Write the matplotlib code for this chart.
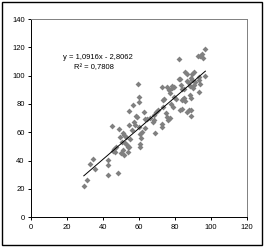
import numpy as np
import matplotlib
matplotlib.use("Agg")
import matplotlib.pyplot as plt
from matplotlib.patches import Rectangle

x_vals = [29.4, 31.1, 32.7, 34.8, 35.7, 42.8, 42.8, 42.8, 44.9, 48.2, 46.3, 47.4, 48.9, 49.3,
          49.9, 51.0, 51.5, 51.9, 52.6, 53.0, 53.8, 54.1, 54.5, 54.5, 54.7, 55.4, 56.0, 56.7,
          58.0, 58.4, 59.3, 59.7, 60.1, 60.3, 60.1, 60.5, 60.5, 60.5, 61.4, 61.9, 63.1, 63.4,
          63.4, 64.4, 66.4, 67.9, 68.3, 68.6, 69.0, 69.8, 70.5, 72.7, 72.9, 73.1, 73.3, 73.3,
          74.0, 75.3, 75.7, 75.7, 76.3, 76.6, 77.2, 77.6, 78.1, 78.3, 78.7, 78.9, 79.4, 79.8,
          80.5, 82.2, 82.2, 83.0, 83.1, 83.5, 83.9, 84.3, 84.3, 84.6, 85.2, 85.4, 85.7, 86.0,
          86.7, 86.9, 87.1, 87.6, 88.0, 88.5, 88.7, 88.9, 89.1, 89.1, 89.3, 89.7, 89.8, 90.2,
          90.6, 90.8, 91.1, 93.2, 93.4, 93.6, 93.6, 93.9, 94.3, 95.0, 96.0, 97.1, 97.1,
          45.5, 47.0, 50.5, 52.0, 57.5, 53.5]
y_vals = [22.4, 26.1, 37.9, 41.4, 34.1, 40.2, 37.2, 29.6, 64.5, 31.1, 48.2, 49.9, 62.1, 56.9,
          45.2, 47.5, 59.3, 43.8, 52.7, 56.9, 49.4, 46.4, 65.2, 74.8, 49.9, 55.3, 61.6, 79.1,
          64.9, 71.8, 70.8, 94.4, 84.7, 81.4, 63.8, 58.6, 51.8, 49.9, 55.8, 60.0, 74.4, 69.6,
          63.3, 69.2, 70.1, 67.5, 72.0, 68.7, 59.8, 74.1, 75.8, 91.8, 65.9, 63.5, 82.8, 78.1,
          83.5, 73.4, 70.6, 92.2, 68.7, 89.9, 69.9, 87.5, 79.8, 92.5, 91.1, 77.6, 85.2, 91.8,
          83.3, 111.8, 97.4, 75.8, 97.6, 93.4, 90.4, 82.8, 76.2, 83.3, 90.4, 84.5, 102.6, 82.1,
          101.2, 74.6, 96.2, 95.8, 75.8, 86.4, 92.7, 98.6, 71.5, 75.8, 84.0, 96.9, 101.2, 91.1,
          93.4, 102.8, 95.8, 113.9, 98.8, 88.7, 96.9, 94.1, 113.9, 115.3, 112.2, 118.8, 99.8,
          47.0, 46.0, 53.0, 58.0, 67.0, 51.0]

slope = 1.0916
intercept = -2.8062
r2 = 0.7808

x_ticks = [0, 20, 40, 60, 80, 100, 120]
y_ticks = [0, 20, 40, 60, 80, 100, 120, 140]

plt.rcParams['font.family'] = ['Liberation Sans', 'DejaVu Sans']

fig = plt.figure(figsize=(2.66, 2.49), dpi=100)
fig.patches.append(Rectangle((2/266, 4/249), 260/266, 243/249, transform=fig.transFigure,
                             fill=False, edgecolor='black', linewidth=1.0))
ax = fig.add_axes([31/266, 1 - 217.3/249, 215.5/266, 198.3/249])

ax.scatter(x_vals, y_vals, marker='D', s=9, color='#808080', linewidths=0, zorder=3)

xl = np.array([min(x_vals), max(x_vals)])
ax.plot(xl, slope * xl + intercept, color='black', linewidth=0.7, zorder=4)

ax.text(0.31, 0.808, f"y = {slope:.4f}x - {abs(intercept):.4f}".replace('.', ','),
        transform=ax.transAxes, ha='center', va='center', fontsize=5.5)
ax.text(0.292, 0.757, f"R² = {r2:.4f}".replace('.', ','),
        transform=ax.transAxes, ha='center', va='center', fontsize=5.5)

ax.set_xlim(0, 120)
ax.set_ylim(0, 140)
ax.set_xticks(x_ticks)
ax.set_yticks(y_ticks)
ax.tick_params(direction='out', length=2.5, width=0.7, labelsize=5.5, pad=2)
for s in ['left', 'bottom']:
    ax.spines[s].set_color('black')
    ax.spines[s].set_linewidth(0.7)
for s in ['top', 'right']:
    ax.spines[s].set_color('#808080')
    ax.spines[s].set_linewidth(0.7)

fig.savefig('out.png', dpi=100)
